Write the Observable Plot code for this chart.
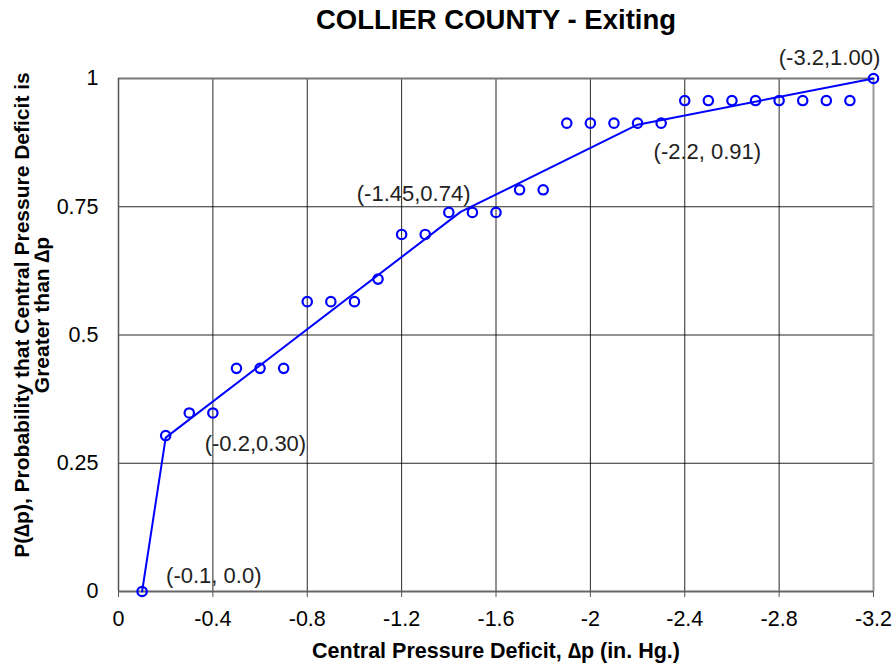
<!DOCTYPE html>
<html><head><meta charset="utf-8">
<script src="https://cdn.jsdelivr.net/npm/d3@7"></script>
<script src="https://cdn.jsdelivr.net/npm/@observablehq/plot@0.6"></script>
<style>body{margin:0;background:#fff;}</style>
</head><body><div id="chart"></div>
<script>
// Observed points
const deltaP = [-0.1,-0.2,-0.3,-0.4,-0.5,-0.6,-0.7,-0.8,-0.9,-1.0,-1.1,-1.2,-1.3,-1.4,-1.5,-1.6,
  -1.7,-1.8,-1.9,-2.0,-2.1,-2.2,-2.3,-2.4,-2.5,-2.6,-2.7,-2.8,-2.9,-3.0,-3.1,-3.2];
const probability = [0,0.304,0.348,0.348,0.435,0.435,0.435,0.565,0.565,0.565,0.609,0.696,0.696,0.739,0.739,0.739,
  0.783,0.783,0.913,0.913,0.913,0.913,0.913,0.957,0.957,0.957,0.957,0.957,0.957,0.957,0.957,1.0];
// Piecewise fit line
const fitX = [-0.1,-0.2,-1.45,-2.2,-3.2];
const fitY = [0,0.30,0.74,0.91,1.00];
const fitLabels = ["(-0.1, 0.0)","(-0.2,0.30)","(-1.45,0.74)","(-2.2, 0.91)","(-3.2,1.00)"];
// Axes
const xTicks = [0,-0.4,-0.8,-1.2,-1.6,-2,-2.4,-2.8,-3.2];
const yTicks = [0,0.25,0.5,0.75,1];
const titleText = "COLLIER COUNTY - Exiting";
const xTitle = "Central Pressure Deficit, \u2206p (in. Hg.)";
const yTitle1 = "P(\u2206p), Probability that Central Pressure Deficit is";
const yTitle2 = "Greater than \u2206p";

const points = deltaP.map((x,i)=>({x, y: probability[i]}));
const fit = fitX.map((x,i)=>({x, y: fitY[i], label: fitLabels[i]}));

const font = "'Liberation Sans', Arial, sans-serif";
const blue = "#0000ff";
// label placement (styles): [dx, dy, anchor]
const place = [[24,-16,"start"],[39,6,"start"],[-47,-18,"middle"],[16,27,"start"],[-44,-21,"middle"]];

const chart = Plot.plot({
  width: 895, height: 666,
  marginLeft: 118, marginRight: 22, marginTop: 78, marginBottom: 75,
  style: {fontFamily: font, background: "#fff", color: "#000"},
  x: {domain: [0, -3.2]},
  y: {domain: [0, 1]},
  marks: [
    Plot.gridX(xTicks, {stroke: "#000", strokeOpacity: 0.85, strokeWidth: 1}),
    Plot.gridY(yTicks, {stroke: "#000", strokeOpacity: 0.85, strokeWidth: 1}),
    Plot.ruleX([-3.2], {stroke: "#999", strokeWidth: 2}),
    Plot.ruleY([1], {stroke: "#777", strokeWidth: 2}),
    Plot.ruleX([0], {stroke: "#555", strokeWidth: 1.5}),
    Plot.ruleY([0], {stroke: "#666", strokeWidth: 2}),
    Plot.axisX(xTicks, {tickSize: 6, tickPadding: 13, stroke: "#555", fontSize: 21.5, tickFormat: d => String(d), label: null}),
    Plot.axisY(yTicks, {tickSize: 0, tickPadding: 20, fontSize: 21.5, tickFormat: d => String(d), label: null}),
    Plot.line(fit, {x: "x", y: "y", stroke: blue, strokeWidth: 2}),
    Plot.dot(points, {x: "x", y: "y", r: 4.7, stroke: blue, strokeWidth: 2.2, fill: "none"}),
    ...fit.map((d,i)=>Plot.text([d], {x: "x", y: "y", text: "label", dx: place[i][0], dy: place[i][1], textAnchor: place[i][2], fontSize: 22, fill: "#222"})),
    Plot.text([titleText], {frameAnchor: "top", lineAnchor: "middle", dy: -58, fontSize: 27.5, fontWeight: "bold"}),
    Plot.text([xTitle], {frameAnchor: "bottom", lineAnchor: "middle", dy: 60, fontSize: 21.5, fontWeight: "bold"}),
    Plot.text([yTitle1], {frameAnchor: "left", textAnchor: "middle", lineAnchor: "middle", dx: -96, dy: -20, rotate: -90, fontSize: 21, fontWeight: "bold"}),
    Plot.text([yTitle2], {frameAnchor: "left", textAnchor: "middle", lineAnchor: "middle", dx: -76, dy: -20, rotate: -90, fontSize: 21, fontWeight: "bold"})
  ]
});
document.getElementById("chart").appendChild(chart);
</script>
</body></html>
